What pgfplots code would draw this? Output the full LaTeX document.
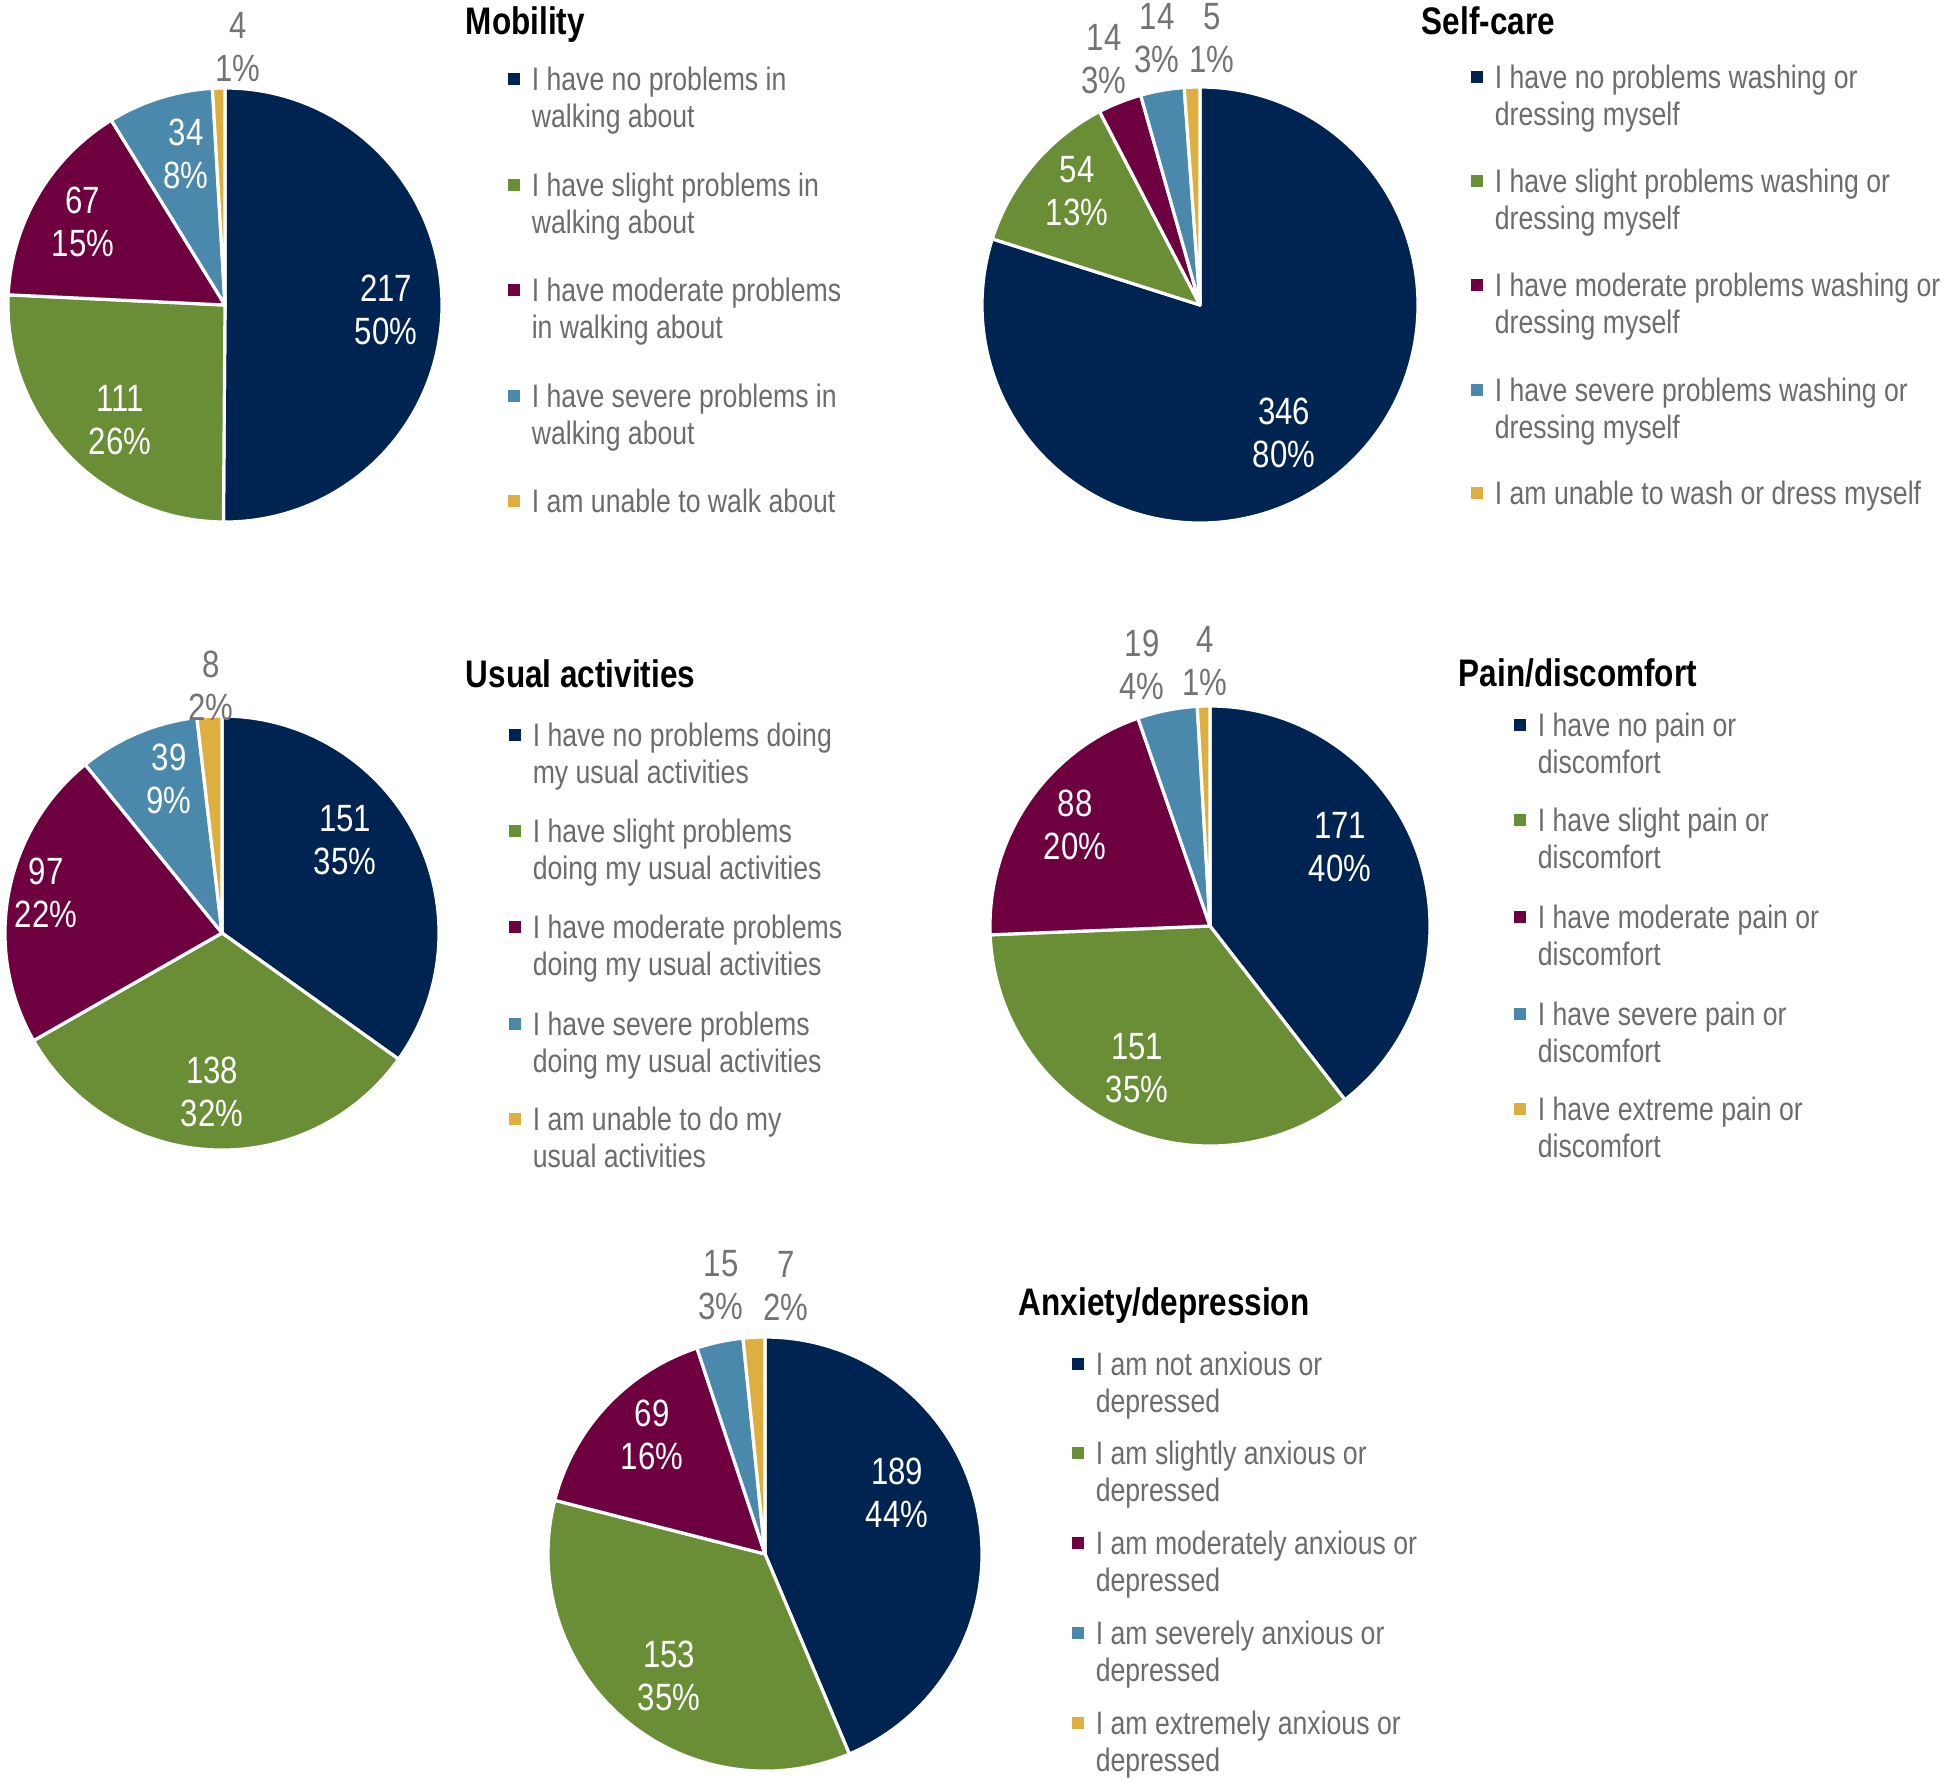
\documentclass[border=0pt]{standalone}
\usepackage{pgfplots}
\pgfplotsset{compat=1.18}
\usepackage{fontspec}
\setmainfont[FakeStretch=0.82]{Liberation Sans}
\definecolor{s1}{RGB}{0,36,82}
\definecolor{s2}{RGB}{106,142,53}
\definecolor{s3}{RGB}{110,0,64}
\definecolor{s4}{RGB}{74,137,171}
\definecolor{s5}{RGB}{222,174,62}
\definecolor{txt}{RGB}{108,108,108}
\definecolor{lab}{RGB}{115,115,115}
\newcommand\labfont{\fontsize{9.5}{10.75}\selectfont}
\newcommand\legfont{\fontsize{8.12}{9.4}\selectfont}
\newcommand\titfont{\fontsize{9.6}{11}\selectfont\bfseries}
% pie: cx, cy, r (pixels), values
\newcommand\pie[4]{%
 \pgfplotsextra{%
  \begingroup
  \xdef\tot{0}%
  \foreach \v in {#4} {\pgfmathparse{\tot+\v}\xdef\tot{\pgfmathresult}}%
  \xdef\cum{0}%
  \pgfmathsetmacro\R{#3*0.25}%
  \foreach \v [count=\i] in {#4} {%
    \pgfmathsetmacro\a{90-360*(\cum/\tot)}%
    \pgfmathsetmacro\b{90-360*((\cum+\v)/\tot)}%
    \fill[fill=s\i, draw=white, line width=0.8pt, line join=round]
      (axis cs:#1,#2) -- ++(\a:\R pt) arc[start angle=\a, end angle=\b, radius=\R pt] -- cycle;
    \pgfmathparse{\cum+\v}\xdef\cum{\pgfmathresult}%
  }%
  \endgroup
 }}
\newcommand\inlab[4]{\node[font=\labfont, text=white, align=center, inner sep=0pt] at (axis cs:#1,#2) {#3\\#4\%};}
\newcommand\outlab[4]{\node[font=\labfont, text=lab, align=center, inner sep=0pt] at (axis cs:#1,#2) {#3\\#4\%};}
\newcommand\ttl[3]{\node[font=\titfont, text=black, anchor=base west, inner sep=0pt] at (axis cs:#1,#2) {#3};}
% legend entry: square x, line1 center y, colour, line1, line2
\newcommand\lent[5]{%
 \fill[#3] (axis cs:#1-6,#2-6) rectangle (axis cs:#1+6,#2+6);
 \node[font=\legfont, text=txt, anchor=base west, inner sep=0pt] at (axis cs:#1+17,#2+11) {#4};
 \node[font=\legfont, text=txt, anchor=base west, inner sep=0pt] at (axis cs:#1+17,#2+48.5) {#5};
}
\begin{document}
\begin{tikzpicture}
\begin{axis}[x=0.25pt, y=0.25pt, y dir=reverse,
  xmin=0, xmax=1946, ymin=0, ymax=1779, hide axis, clip=false]
% ---- Mobility
\pie{225}{305}{217}{217,111,67,34,4}
\inlab{386}{309.5}{217}{50}
\inlab{120}{420}{111}{26}
\inlab{83}{221.5}{67}{15}
\inlab{186}{153.5}{34}{8}
\outlab{238}{47.5}{4}{1}
\ttl{465}{34}{Mobility}
\lent{514}{79}{s1}{I have no problems in}{walking about}
\lent{514}{185}{s2}{I have slight problems in}{walking about}
\lent{514}{290}{s3}{I have moderate problems}{in walking about}
\lent{514}{396}{s4}{I have severe problems in}{walking about}
\lent{514}{501}{s5}{I am unable to walk about}{}
% ---- Self-care
\pie{1200}{305}{218}{346,54,14,14,5}
\inlab{1284}{432.5}{346}{80}
\inlab{1077}{191.5}{54}{13}
\outlab{1104}{59}{14}{3}
\outlab{1157}{38.5}{14}{3}
\outlab{1212}{38.5}{5}{1}
\ttl{1421}{34}{Self-care}
\lent{1477}{77}{s1}{I have no problems washing or}{dressing myself}
\lent{1477}{181}{s2}{I have slight problems washing or}{dressing myself}
\lent{1477}{285}{s3}{I have moderate problems washing or}{dressing myself}
\lent{1477}{390}{s4}{I have severe problems washing or}{dressing myself}
\lent{1477}{493}{s5}{I am unable to wash or dress myself}{}
% ---- Usual activities
\pie{222}{933}{217}{151,138,97,39,8}
\inlab{345}{840.5}{151}{35}
\inlab{212}{1091.5}{138}{32}
\inlab{46}{893}{97}{22}
\inlab{169}{778.5}{39}{9}
\outlab{211}{686}{8}{2}
\ttl{465}{687}{Usual activities}
\lent{515}{735}{s1}{I have no problems doing}{my usual activities}
\lent{515}{831}{s2}{I have slight problems}{doing my usual activities}
\lent{515}{927}{s3}{I have moderate problems}{doing my usual activities}
\lent{515}{1024}{s4}{I have severe problems}{doing my usual activities}
\lent{515}{1119}{s5}{I am unable to do my}{usual activities}
% ---- Pain/discomfort
\pie{1210}{926}{220}{171,151,88,19,4}
\inlab{1340}{847}{171}{40}
\inlab{1137}{1068}{151}{35}
\inlab{1075}{824.5}{88}{20}
\outlab{1142}{664.5}{19}{4}
\outlab{1205}{661.5}{4}{1}
\ttl{1458}{686}{Pain/discomfort}
\lent{1520}{725}{s1}{I have no pain or}{discomfort}
\lent{1520}{820}{s2}{I have slight pain or}{discomfort}
\lent{1520}{917}{s3}{I have moderate pain or}{discomfort}
\lent{1520}{1014}{s4}{I have severe pain or}{discomfort}
\lent{1520}{1109}{s5}{I have extreme pain or}{discomfort}
% ---- Anxiety/depression
\pie{765}{1554}{217}{189,153,69,15,7}
\inlab{897}{1492.5}{189}{44}
\inlab{669}{1676}{153}{35}
\inlab{652}{1435}{69}{16}
\outlab{721}{1285}{15}{3}
\outlab{786}{1286.5}{7}{2}
\ttl{1018}{1315}{Anxiety/depression}
\lent{1078}{1364}{s1}{I am not anxious or}{depressed}
\lent{1078}{1453}{s2}{I am slightly anxious or}{depressed}
\lent{1078}{1543}{s3}{I am moderately anxious or}{depressed}
\lent{1078}{1633}{s4}{I am severely anxious or}{depressed}
\lent{1078}{1723}{s5}{I am extremely anxious or}{depressed}
\end{axis}
\pgfresetboundingbox
\path[use as bounding box] (0,0) rectangle (486.5pt,444.75pt);
\end{tikzpicture}
\end{document}
